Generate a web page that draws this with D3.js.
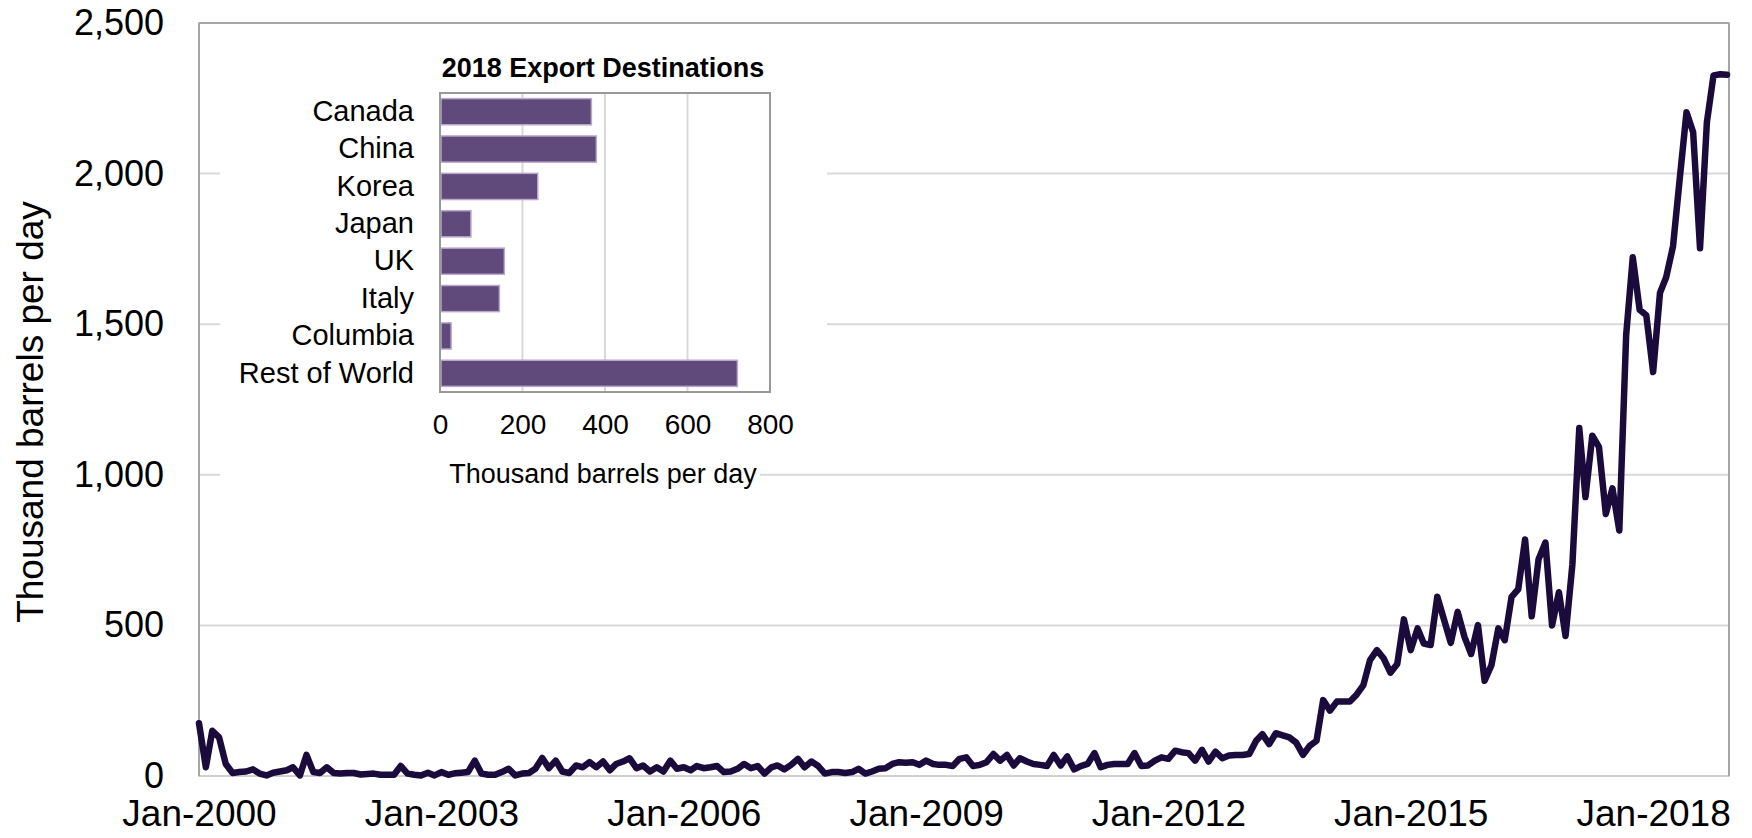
<!DOCTYPE html>
<html>
<head>
<meta charset="utf-8">
<script src="https://cdn.jsdelivr.net/npm/d3@7"></script>
<style>
  html, body { margin: 0; padding: 0; background: #fff; }
  svg { display: block; font-family: "Liberation Sans", Arial, sans-serif; }
</style>
</head>
<body>
<svg id="chart" width="1752" height="838"></svg>
<script>
// Monthly U.S. crude oil exports, thousand barrels per day, Jan 2000 onward
const firstMonth = new Date(2000, 0, 1);
const monthlyExports = [
  175, 29, 150, 128, 40, 10, 13, 15, 22, 8,
  2, 11, 15, 19, 29, 2, 70, 13, 10, 29,
  10, 8, 10, 10, 5, 7, 8, 4, 4, 4,
  33, 8, 4, 2, 11, 2, 13, 4, 9, 11,
  13, 51, 8, 4, 4, 13, 24, 2, 8, 10,
  24, 60, 26, 51, 15, 10, 35, 29, 46, 29,
  48, 19, 40, 48, 59, 26, 35, 15, 29, 15,
  51, 24, 29, 19, 33, 26, 29, 33, 13, 15,
  24, 40, 26, 33, 8, 29, 35, 22, 37, 57,
  29, 48, 33, 8, 13, 13, 10, 13, 24, 8,
  15, 24, 26, 40, 46, 44, 46, 37, 51, 40,
  37, 37, 33, 57, 62, 33, 37, 46, 73, 51,
  70, 35, 59, 48, 40, 37, 33, 70, 35, 65,
  22, 33, 40, 76, 29, 37, 40, 40, 40, 76,
  33, 35, 51, 62, 57, 84, 79, 76, 51, 87,
  48, 81, 59, 68, 70, 70, 73, 117, 139, 106,
  142, 135, 128, 111, 70, 100, 117, 252, 217, 247,
  247, 247, 270, 302, 385, 418, 390, 343, 372, 520,
  418, 490, 440, 435, 595, 518, 442, 545, 462, 405,
  501, 316, 368, 490, 451, 595, 620, 785, 530, 720,
  775, 500, 610, 465, 703, 1155, 926, 1130, 1093, 870,
  955, 815, 1463, 1722, 1548, 1530, 1341, 1604, 1656, 1759,
  1981, 2204, 2137, 1752, 2170, 2326, 2330, 2328
];
const yTicks = [0, 500, 1000, 1500, 2000, 2500];
const xTickYears = [2000, 2003, 2006, 2009, 2012, 2015, 2018];

// 2018 export destinations (inset)
const destinations = ["Canada", "China", "Korea", "Japan", "UK", "Italy", "Columbia", "Rest of World"];
const destinationVolumes = [367, 379, 237, 75, 156, 144, 27, 721];
const insetTicks = [0, 200, 400, 600, 800];

const svg = d3.select("#chart");
const FONT = '"Liberation Sans", Arial, sans-serif';

// ---------- main line chart ----------
const plot = { left: 199, right: 1729, top: 23, bottom: 776 };
const series = monthlyExports.map((v, i) => ({ date: d3.timeMonth.offset(firstMonth, i), value: v }));

const x = d3.scaleTime()
  .domain([series[0].date, series[series.length - 1].date])
  .range([plot.left, plot.right - 2]);
const y = d3.scaleLinear().domain([0, 2500]).range([plot.bottom, plot.top]);

// horizontal gridlines
svg.append("g")
  .selectAll("line")
  .data(yTicks.filter(t => t > 0 && t < 2500))
  .join("line")
  .attr("x1", plot.left).attr("x2", plot.right)
  .attr("y1", d => y(d)).attr("y2", d => y(d))
  .attr("stroke", "#d9d9d9").attr("stroke-width", 2);

// plot frame
svg.append("rect")
  .attr("x", plot.left).attr("y", plot.top)
  .attr("width", plot.right - plot.left).attr("height", plot.bottom - plot.top)
  .attr("fill", "none").attr("stroke", "#d0d0d0").attr("stroke-width", 2);
svg.append("line")
  .attr("x1", plot.left).attr("x2", plot.left)
  .attr("y1", plot.top).attr("y2", plot.bottom)
  .attr("stroke", "#a6a6a6").attr("stroke-width", 2);
svg.append("line")
  .attr("x1", plot.left).attr("x2", plot.right)
  .attr("y1", plot.top).attr("y2", plot.top)
  .attr("stroke", "#a6a6a6").attr("stroke-width", 2);
svg.append("line")
  .attr("x1", plot.right).attr("x2", plot.right)
  .attr("y1", plot.top).attr("y2", plot.bottom)
  .attr("stroke", "#a6a6a6").attr("stroke-width", 2);

// y axis labels
const yAxis = d3.axisLeft(y).tickValues(yTicks).tickSize(0).tickPadding(35)
  .tickFormat(d3.format(","));
const gy = svg.append("g").attr("transform", `translate(${plot.left},0)`).call(yAxis);
gy.select(".domain").remove();
gy.selectAll("text").attr("font-family", FONT).attr("font-size", 36).attr("fill", "#000");

// x axis labels
const xAxis = d3.axisBottom(x)
  .tickValues(xTickYears.map(yr => new Date(yr, 0, 1)))
  .tickSize(0).tickPadding(24)
  .tickFormat(d3.timeFormat("%b-%Y"));
const gx = svg.append("g").attr("transform", `translate(0,${plot.bottom})`).call(xAxis);
gx.select(".domain").remove();
gx.selectAll("text").attr("font-family", FONT).attr("font-size", 37).attr("fill", "#000");

// y axis title
svg.append("text")
  .attr("transform", "translate(30,412) rotate(-90)")
  .attr("text-anchor", "middle").attr("dominant-baseline", "central")
  .attr("font-family", FONT).attr("font-size", 37).attr("fill", "#000")
  .text("Thousand barrels per day");

// ---------- inset bar chart ----------
const inset = svg.append("g");
inset.append("rect").attr("x", 220).attr("y", 36).attr("width", 607).attr("height", 428).attr("fill", "#fff");
inset.append("rect").attr("x", 220).attr("y", 460).attr("width", 540).attr("height", 36).attr("fill", "#fff");

const ip = { left: 440, right: 770, top: 93, bottom: 392 };
const ix = d3.scaleLinear().domain([0, 800]).range([ip.left, ip.right]);
const iy = d3.scaleBand().domain(destinations).range([ip.top, ip.bottom]).paddingInner(0.3).paddingOuter(0.15);

inset.append("g")
  .selectAll("line")
  .data(insetTicks.filter(t => t > 0 && t < 800))
  .join("line")
  .attr("x1", d => ix(d)).attr("x2", d => ix(d))
  .attr("y1", ip.top).attr("y2", ip.bottom)
  .attr("stroke", "#d9d9d9").attr("stroke-width", 2);

inset.append("g")
  .selectAll("rect")
  .data(destinations.map((c, i) => ({ c, v: destinationVolumes[i] })))
  .join("rect")
  .attr("x", ix(0) + 1)
  .attr("y", d => iy(d.c))
  .attr("width", d => ix(d.v) - ix(0) - 1)
  .attr("height", iy.bandwidth())
  .attr("fill", "#604a7b")
  .attr("stroke", "#b8a8cc").attr("stroke-width", 1.5);

inset.append("rect")
  .attr("x", ip.left).attr("y", ip.top)
  .attr("width", ip.right - ip.left).attr("height", ip.bottom - ip.top)
  .attr("fill", "none").attr("stroke", "#999").attr("stroke-width", 2);

const iyAxis = d3.axisLeft(iy).tickSize(0).tickPadding(26);
const giy = inset.append("g").attr("transform", `translate(${ip.left},0)`).call(iyAxis);
giy.select(".domain").remove();
giy.selectAll("text").attr("font-family", FONT).attr("font-size", 29).attr("fill", "#000");

const ixAxis = d3.axisBottom(ix).tickValues(insetTicks).tickSize(0).tickPadding(22);
const gix = inset.append("g").attr("transform", `translate(0,${ip.bottom})`).call(ixAxis);
gix.select(".domain").remove();
gix.selectAll("text").attr("font-family", FONT).attr("font-size", 28).attr("fill", "#000");

inset.append("text")
  .attr("x", (ip.left + ip.right) / 2 - 2).attr("y", 77)
  .attr("text-anchor", "middle")
  .attr("font-family", FONT).attr("font-size", 27).attr("font-weight", "bold").attr("fill", "#000")
  .text("2018 Export Destinations");

inset.append("text")
  .attr("x", 603).attr("y", 483)
  .attr("text-anchor", "middle")
  .attr("font-family", FONT).attr("font-size", 27).attr("fill", "#000")
  .text("Thousand barrels per day");

// ---------- exports line ----------
const line = d3.line().x(d => x(d.date)).y(d => y(d.value));
svg.append("path")
  .datum(series)
  .attr("d", line)
  .attr("fill", "none")
  .attr("stroke", "#1b0a3c")
  .attr("stroke-width", 6.5)
  .attr("stroke-linejoin", "round")
  .attr("stroke-linecap", "round");
</script>
</body>
</html>
